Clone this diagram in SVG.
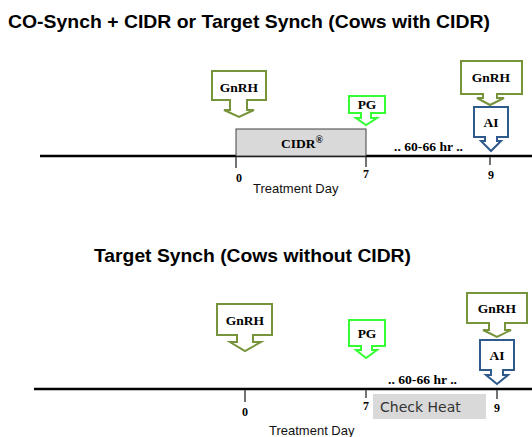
<svg xmlns="http://www.w3.org/2000/svg" width="532" height="437" viewBox="0 0 532 437">
<style>
.title{font-family:"Liberation Sans",Arial,sans-serif;font-weight:bold;font-size:18.5px;fill:#000}
.lbl{font-family:"Liberation Serif","Times New Roman",serif;font-weight:bold;font-size:13.5px;fill:#000;text-anchor:middle}
.num{font-family:"Liberation Serif","Times New Roman",serif;font-weight:bold;font-size:12px;fill:#000;text-anchor:middle}
.hr{font-family:"Liberation Serif","Times New Roman",serif;font-weight:bold;font-size:12px;fill:#000}
.day{font-family:"Liberation Sans",Arial,sans-serif;font-size:13px;fill:#111}
.gnrh{fill:#fff;stroke:#77933C;stroke-width:2}
.pg{fill:#fff;stroke:#33FF33;stroke-width:2}
.ai{fill:#fff;stroke:#2F5A8E;stroke-width:2}
.axis{stroke:#000;stroke-width:2.5}
.tick{stroke:#444;stroke-width:1.5}
</style>
<rect width="532" height="437" fill="#fff"/>
<text class="title" x="8" y="28" textLength="482" lengthAdjust="spacingAndGlyphs">CO-Synch + CIDR or Target Synch (Cows with CIDR)</text>
<text class="title" x="94" y="262" textLength="317" lengthAdjust="spacingAndGlyphs">Target Synch (Cows without CIDR)</text>

<g id="connectors">
<line class="axis" x1="40" y1="156" x2="532" y2="156"/>
<line class="tick" x1="236" y1="157" x2="236" y2="168"/>
<line class="tick" x1="366" y1="157" x2="366" y2="167"/>
<line class="tick" x1="490" y1="157" x2="490" y2="165"/>
<line class="axis" x1="34" y1="389" x2="532" y2="389"/>
<line class="tick" x1="245" y1="390" x2="245" y2="402"/>
<line class="tick" x1="366" y1="390" x2="366" y2="398"/>
<line class="tick" x1="497" y1="390" x2="497" y2="399"/>
</g>

<g id="cidr">
<rect x="236" y="129" width="130" height="27" fill="#D9D9D9" stroke="#404040" stroke-width="1"/>
<text class="lbl" x="302" y="148" font-size="15.5">CIDR<tspan font-size="10" dy="-5">®</tspan></text>
</g>

<g id="gnrh1">
<path class="gnrh" d="M212,71 H266 V100 H247 V110 H254 L239,117 L224,110 H230 V100 H212 Z"/>
<text class="lbl" x="239" y="92">GnRH</text>
</g>
<g id="pg1">
<path class="pg" d="M349,96 H385 V113 H371 V118 H377 L366,125 L356,118 H361 V113 H349 Z"/>
<text class="lbl" x="367" y="109">PG</text>
</g>
<g id="gnrh2">
<path class="gnrh" d="M461,61 H522 V94 H497 V98 H504 L490,105 L477,98 H483 V94 H461 Z"/>
<text class="lbl" x="491" y="82">GnRH</text>
</g>
<g id="ai1">
<path class="ai" d="M474,107 H508 V137 H497 V141 H501 L491,151 L481,141 H485 V137 H474 Z"/>
<text class="lbl" x="491" y="127">AI</text>
</g>
<text class="hr" x="394" y="151" textLength="69" lengthAdjust="spacingAndGlyphs">.. 60-66 hr ..</text>
<text class="num" x="239" y="182">0</text>
<text class="num" x="366" y="178">7</text>
<text class="num" x="491" y="179">9</text>
<text class="day" x="253" y="193">Treatment Day</text>

<g id="gnrh3">
<path class="gnrh" d="M217,304 H272 V335 H253 V342 H261 L245,351 L230,342 H237 V335 H217 Z"/>
<text class="lbl" x="245" y="325">GnRH</text>
</g>
<g id="pg2">
<path class="pg" d="M349,320 H385 V346 H372 V350 H377 L366,358 L356,350 H361 V346 H349 Z"/>
<text class="lbl" x="367" y="338">PG</text>
</g>
<g id="gnrh4">
<path class="gnrh" d="M467,293 H527 V323 H505 V330 H511 L497,337 L483,330 H489 V323 H467 Z"/>
<text class="lbl" x="497" y="313">GnRH</text>
</g>
<g id="ai2">
<path class="ai" d="M480,340 H514 V370 H503 V375 H508 L497,384 L486,375 H491 V370 H480 Z"/>
<text class="lbl" x="497" y="360">AI</text>
</g>
<text class="hr" x="388" y="384" textLength="69" lengthAdjust="spacingAndGlyphs">.. 60-66 hr ..</text>
<g id="checkheat">
<rect x="373" y="394" width="113" height="25" fill="#D9D9D9"/>
<text x="380" y="412" font-family="'DejaVu Sans',Verdana,sans-serif" font-size="14" fill="#333">Check Heat</text>
</g>
<text class="num" x="245" y="416">0</text>
<text class="num" x="366" y="410">7</text>
<text class="num" x="497" y="412">9</text>
<text class="day" x="269" y="435" font-size="13.5">Treatment Day</text>
</svg>
